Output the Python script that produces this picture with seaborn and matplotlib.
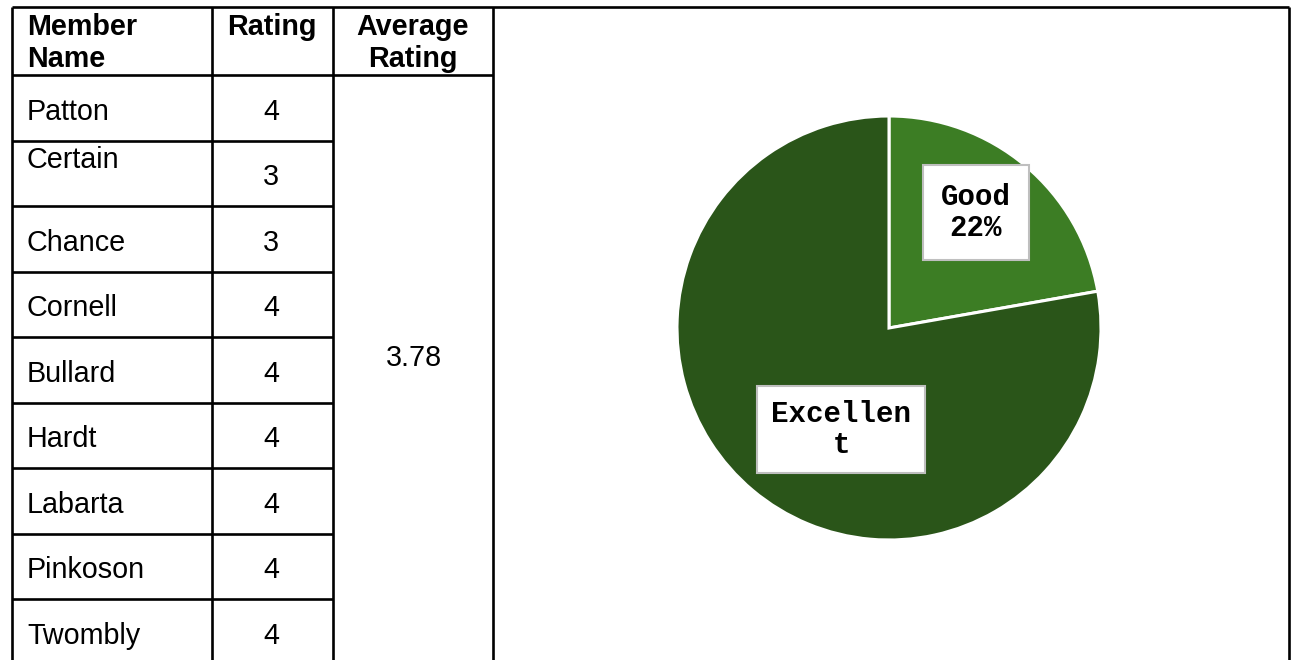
import numpy as np
import matplotlib
matplotlib.use("Agg")
import matplotlib.pyplot as plt
import seaborn as sns

# -----------------------------
# data
# -----------------------------
member_names = ["Patton", "Certain", "Chance", "Cornell", "Bullard",
                "Hardt", "Labarta", "Pinkoson", "Twombly"]
member_ratings = [4, 3, 3, 4, 4, 4, 4, 4, 4]
average_rating = "3.78"

pie_categories = ["Good", "Excellent"]
pie_counts = [2, 7]
pie_colors = ["#3c7d24", "#2a5519"]
pie_label_texts = ["Good\n22%", "Excellen\nt"]

# -----------------------------
# style
# -----------------------------
sns.set_theme(style="white")
plt.rcParams["font.family"] = ["Liberation Sans", "DejaVu Sans"]
plt.rcParams["text.color"] = "black"

W, H = 1291, 660
fig = plt.figure(figsize=(W / 100, H / 100), dpi=100)

# full-figure axes in pixel coordinates for the table
tab = fig.add_axes([0, 0, 1, 1])
tab.set_xlim(0, W)
tab.set_ylim(H, 0)
tab.axis("off")

LW = 1.9
x_cols = [12, 212, 333, 493, 1289]
top_y = 6.5
head_y = 75
row_h = 65.5

# outer / column lines
tab.hlines(top_y, x_cols[0], x_cols[-1], color="black", lw=LW)
tab.hlines(head_y, x_cols[0], x_cols[3], color="black", lw=LW)
for x in x_cols:
    tab.vlines(x, top_y, H + 5, color="black", lw=LW)
for i in range(1, len(member_names)):
    tab.hlines(head_y + i * row_h, x_cols[0], x_cols[2], color="black", lw=LW)

fs = 20.7
dy = 4  # small downward nudge of the text baseline
# headers
tab.text(27, 43, "Member\nName", ha="left", va="center", fontsize=fs,
         fontweight="bold", linespacing=1.2)
tab.text(272, 27, "Rating", ha="center", va="center", fontsize=fs, fontweight="bold")
tab.text(413, 43, "Average\nRating", ha="center", va="center", fontsize=fs,
         fontweight="bold", linespacing=1.2)

# rows
for i, (name, rating) in enumerate(zip(member_names, member_ratings)):
    yc = head_y + (i + 0.5) * row_h + dy
    name_y = yc - 17 if name == "Certain" else yc
    tab.text(27, name_y, name, ha="left", va="center", fontsize=fs)
    tab.text(271, yc, str(rating), ha="center", va="center", fontsize=fs)

tab.text(414, 354 + dy, average_rating, ha="center", va="center", fontsize=fs)

# -----------------------------
# pie chart
# -----------------------------
cx, cy, r = 889, 328, 212
pie_ax = fig.add_axes([(cx - r) / W, (H - cy - r) / H, 2 * r / W, 2 * r / H])
pie_ax.pie(pie_counts, colors=pie_colors, startangle=90, counterclock=False,
           wedgeprops={"edgecolor": "white", "linewidth": 2.2})
pie_ax.set_xlim(-1, 1)
pie_ax.set_ylim(-1, 1)
pie_ax.set_aspect("equal")
pie_ax.axis("off")

label_pos = [(0.41, 0.545), (-0.225, -0.48)]
label_pad = [0.62, 0.48]
for txt, (lx, ly), pad in zip(pie_label_texts, label_pos, label_pad):
    pie_ax.text(lx, ly, txt, ha="center", va="center", fontsize=21,
                family=["Liberation Mono", "DejaVu Sans Mono"], fontweight="bold",
                linespacing=1.15,
                bbox=dict(boxstyle=f"square,pad={pad}", facecolor="white",
                          edgecolor="#bfbfbf", linewidth=1.5))

fig.savefig("out.png", dpi=100)
